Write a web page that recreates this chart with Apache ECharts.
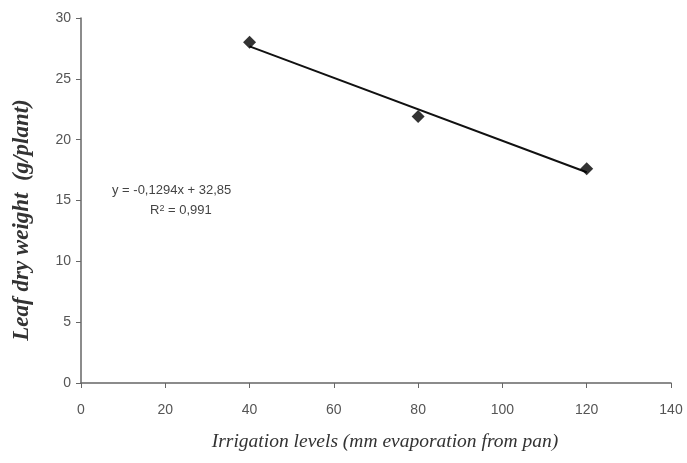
<!DOCTYPE html>
<html lang="en">
<head>
    <meta charset="utf-8">
    <title>Leaf dry weight</title>
    <script src="https://cdn.jsdelivr.net/npm/echarts@6/dist/echarts.min.js"></script>
    <style>
        body { margin: 0; background: #fff; }
        #chart { width: 687px; height: 463px; }
    </style>
</head>
<body>
    <div id="chart"></div>
    <script type="text/javascript">

    // measured points
    var irrigation = [40, 80, 120],
        leafWeight = [28.0, 21.9, 17.6];

    // linear trend endpoints
    var trendX = [40, 120],
        trendY = [27.67, 17.32];

    var xTicks = [0, 20, 40, 60, 80, 100, 120, 140],
        yTicks = [0, 5, 10, 15, 20, 25, 30];

    var tickFont = { color: '#555', fontSize: 14, fontFamily: 'Liberation Sans' };
    var axisLine = { lineStyle: { color: '#666', width: 1.5 } };

    var chart = echarts.init(document.getElementById('chart'));
    chart.setOption({
        animation: false,
        grid: { left: 81, right: 16, top: 18, bottom: 80, outerBoundsMode: 'none', containLabel: false },
        xAxis: {
            type: 'value',
            min: xTicks[0], max: xTicks[xTicks.length - 1], interval: 20,
            axisLine: axisLine,
            axisTick: { show: true, length: 5, lineStyle: { color: '#666' } },
            axisLabel: Object.assign({ margin: 20 }, tickFont),
            splitLine: { show: false }
        },
        yAxis: {
            type: 'value',
            min: yTicks[0], max: yTicks[yTicks.length - 1], interval: 5,
            axisLine: Object.assign({ show: true }, axisLine),
            axisTick: { show: true, length: 5, lineStyle: { color: '#666' } },
            axisLabel: Object.assign({ margin: 10 }, tickFont),
            splitLine: { show: false }
        },
        graphic: [{
            // axis titles are placed by hand, both sit off the plot centre in the original
            type: 'text',
            x: 22, y: 220,
            rotation: Math.PI / 2,
            style: {
                text: 'Leaf dry weight  (g/plant)',
                font: 'italic bold 23px "Liberation Serif"',
                fill: '#333',
                align: 'center',
                verticalAlign: 'middle'
            }
        }, {
            type: 'text',
            x: 385, y: 442,
            style: {
                text: 'Irrigation levels (mm evaporation from pan)',
                font: 'italic 19.5px "Liberation Serif"',
                fill: '#333',
                align: 'center',
                verticalAlign: 'middle'
            }
        }, {
            type: 'text',
            left: 112, top: 184,
            style: {
                text: 'y = -0,1294x + 32,85',
                font: '13px "Liberation Sans"',
                fill: '#444'
            }
        }, {
            type: 'text',
            left: 150, top: 204,
            style: {
                text: '{a|R}{s|2}{a| = 0,991}',
                rich: {
                    a: { font: '13px "Liberation Sans"', fill: '#444', verticalAlign: 'bottom' },
                    s: { font: '9px "Liberation Sans"', fill: '#444', verticalAlign: 'top' }
                }
            }
        }],
        series: [{
            name: 'trend',
            type: 'line',
            data: trendX.map(function (x, i) { return [x, trendY[i]]; }),
            showSymbol: false,
            lineStyle: { color: '#111', width: 2 },
            z: 2
        }, {
            name: 'leaf',
            type: 'scatter',
            data: irrigation.map(function (x, i) { return [x, leafWeight[i]]; }),
            symbol: 'diamond',
            symbolSize: 13,
            itemStyle: { color: '#000' },
            z: 3
        }]
    });
    </script>
</body>
</html>
